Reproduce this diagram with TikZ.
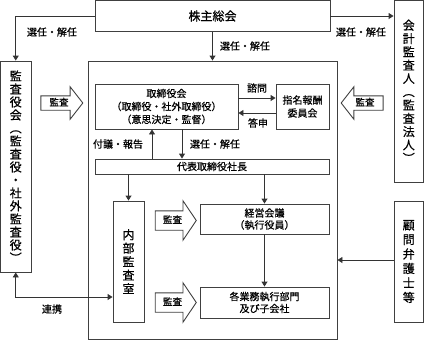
\documentclass[tikz,border=0pt]{standalone}
\usepackage{fontspec}
\setmainfont{Noto Sans CJK JP}[FakeBold=0.6]
\usetikzlibrary{arrows.meta,shapes.arrows}
\begin{document}
\begin{tikzpicture}[x=1pt,y=-1pt,
  bx/.style={draw=black!75, fill=white, line width=0.9pt, inner sep=0pt, align=center, font=\fontsize{10}{13}\selectfont},
  vt/.style={bx, font=\fontsize{12}{13}\selectfont},
  con/.style={draw=black!80, line width=0.9pt, -{Triangle[length=5pt,width=6pt]}},
  lbl/.style={font=\fontsize{10}{11}\selectfont, inner sep=0pt},
  blk/.style={single arrow, draw=black!75, fill=white, line width=0.9pt,
    font=\fontsize{9.5}{10}\selectfont, text height=7pt, text depth=1.5pt,
    inner xsep=2pt, single arrow tip angle=104},
]
\useasboundingbox (0,0) rectangle (424,341);
% boxes
\node[bx, font=\fontsize{12}{14}\selectfont, minimum width=235pt, minimum height=30.5pt] (sh) at (212.5,16) {株主総会};
\node[vt, minimum width=30.5pt, minimum height=211pt] (kansa) at (15.75,166.5)
  {監\\査\\役\\会\\︵\\監\\査\\役\\・\\社\\外\\監\\査\\役\\︶};
\node[bx, minimum width=249pt, minimum height=278.5pt] (big) at (212.5,200.25) {};
\node[vt, font=\fontsize{12}{13.3}\selectfont, minimum width=29.5pt, minimum height=181.5pt] (kaikei) at (408.75,91.25)
  {会\\計\\監\\査\\人\\︵\\監\\査\\法\\人\\︶};
\node[bx, minimum width=143pt, minimum height=45pt] (tori) at (166.5,106.5)
  {取締役会\\（取締役・社外取締役）\\（意思決定・監督）};
\node[bx, minimum width=53pt, minimum height=45pt] (shimei) at (302.5,106.5) {指名報酬\\委員会};
\node[bx, minimum width=234pt, minimum height=15pt] (daihyo) at (212,166.5) {代表取締役社長};
\node[vt, font=\fontsize{12}{13.5}\selectfont, minimum width=31pt, minimum height=121pt] (naibu) at (128.5,261.5)
  {内\\部\\監\\査\\室};
\node[bx, font=\fontsize{10}{12}\selectfont, minimum width=129pt, minimum height=30pt] (keiei) at (264.5,219) {経営会議\\（執行役員）};
\node[bx, font=\fontsize{10}{12}\selectfont, minimum width=129pt, minimum height=31pt] (kakugyo) at (264.5,302.5) {各業務執行部門\\及び子会社};
\node[vt, font=\fontsize{12}{14.5}\selectfont, minimum width=29.5pt, minimum height=121pt] (komon) at (408.75,261.5)
  {顧\\問\\弁\\護\\士\\等};
% block arrows
\node[blk, inner ysep=2.5pt, single arrow head extend=9pt, minimum height=42pt] (a1) at (59,103) {監査};
\node[blk, inner ysep=2.5pt, single arrow head extend=9pt, minimum height=42pt, shape border rotate=180] (a2) at (365,103) {監査};
\node[blk, inner ysep=5pt, single arrow head extend=10pt, minimum height=41pt, single arrow tip angle=112] (a3) at (172.5,220.5) {監査};
\node[blk, inner ysep=5pt, single arrow head extend=10pt, minimum height=41pt, single arrow tip angle=112] (a4) at (172.5,302.5) {監査};
% helper coordinates
\coordinate (y98) at (0,98);
\coordinate (y113) at (0,113);
\coordinate (x152) at (152,0);
\coordinate (x182) at (182,0);
\coordinate (x129) at (128.5,0);
\coordinate (x265) at (264.5,0);
\coordinate (y260) at (0,260);
\coordinate (y297) at (0,297);
% connectors
\draw[con] (sh.west) -| (kansa.north);
\draw[con] (sh.south) -- (big.north);
\draw[con] (sh.east) -- (kaikei.west |- sh.east);
\draw[con] (tori.east |- y98) -- (shimei.west |- y98);
\draw[con] (shimei.west |- y113) -- (tori.east |- y113);
\draw[con] (daihyo.north -| x152) -- (tori.south -| x152);
\draw[con] (tori.south -| x182) -- (daihyo.north -| x182);
\draw[con] (daihyo.south -| x129) -- (naibu.north);
\draw[con] (daihyo.south -| x265) -- (keiei.north);
\draw[con] (keiei.south) -- (kakugyo.north);
\draw[con] (komon.west |- y260) -- (big.east |- y260);
\draw[con, {Triangle[length=5pt,width=6pt]}-{Triangle[length=5pt,width=6pt]}] (kansa.south) |- (naibu.west |- y297);
% labels
\node[lbl] (l1) at (52,32) {選任・解任};
\node[lbl] (l2) at (245,46) {選任・解任};
\node[lbl] (l3) at (361,32) {選任・解任};
\node[lbl] (l4) at (257,88) {諮問};
\node[lbl] (l5) at (258,123) {答申};
\node[lbl] (l6) at (118,144) {付議・報告};
\node[lbl] (l7) at (215,144) {選任・解任};
\node[lbl] (l8) at (52,309) {連携};
\end{tikzpicture}
\end{document}
